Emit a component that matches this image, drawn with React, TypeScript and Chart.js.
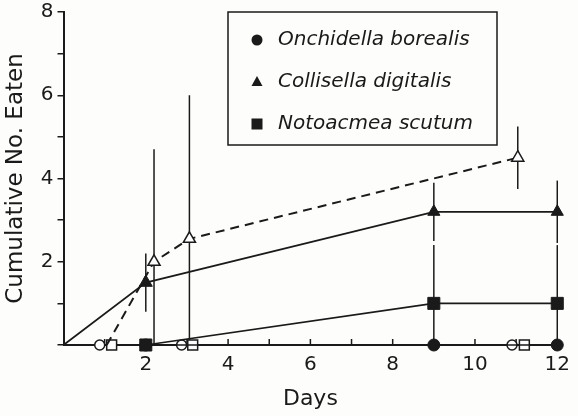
import React, { useEffect, useRef } from "react";
import { Chart, registerables } from "chart.js";

Chart.register(...registerables);

// ---- data ----
const seriesNames = ["Onchidella borealis", "Collisella digitalis", "Notoacmea scutum"];

// Onchidella borealis (filled circle)
const onchDays = [2, 9, 12];
const onchVals = [0, 0, 0];

// Collisella digitalis (filled triangle, solid)
const collDays = [0, 2, 9, 12];
const collVals = [0, 1.5, 3.2, 3.2];
const collErr = [0, 0.7, 0.7, 0.75];

// Notoacmea scutum (filled square)
const notoDays = [2, 9, 12];
const notoVals = [0, 1.0, 1.0];
const notoErr = [0, 1.4, 1.4];

// Collisella digitalis, open (dashed)
const collOpenDays = [1.05, 2.2, 3.06, 11.04];
const collOpenVals = [0, 2.0, 2.55, 4.5];
const collOpenErr = [0, 2.7, 3.45, 0.75];

// open circles / squares (all zero)
const onchOpenDays = [0.88, 2.87, 10.9];
const onchOpenVals = [0, 0, 0];
const notoOpenDays = [1.17, 3.14, 11.2];
const notoOpenVals = [0, 0, 0];

const xTickLabels = ["2", "4", "6", "8", "10", "12"];
const yTickLabels = ["2", "4", "6", "8"];
const xTitle = "Days";
const yTitle = "Cumulative No. Eaten";

const FONT = "'DejaVu Sans', sans-serif";
const INK = "#1a1a1a";
const BG = "#fdfdfb";

const pts = (d: number[], v: number[]) => d.map((x, i) => ({ x, y: v[i] }));

const errorBars = [
  { days: collDays, vals: collVals, err: collErr },
  { days: notoDays, vals: notoVals, err: notoErr },
  { days: collOpenDays, vals: collOpenVals, err: collOpenErr },
];

const bgPlugin = {
  id: "bg",
  beforeDraw(chart: any) {
    const { ctx, width, height } = chart;
    ctx.save();
    ctx.fillStyle = BG;
    ctx.fillRect(0, 0, width, height);
    ctx.restore();
  },
};

const extrasPlugin = {
  id: "extras",
  beforeDatasetsDraw(chart: any) {
    const { ctx, scales } = chart;
    const xs = scales.x;
    const ys = scales.y;
    ctx.save();
    ctx.strokeStyle = INK;
    ctx.lineWidth = 1.5;
    // inward x ticks
    for (let d = 1; d <= 12; d++) {
      const px = xs.getPixelForValue(d);
      ctx.beginPath();
      ctx.moveTo(px, ys.bottom);
      ctx.lineTo(px, ys.bottom - 6);
      ctx.stroke();
    }
    // error bars
    errorBars.forEach((s) => {
      s.days.forEach((d, i) => {
        const e = s.err[i];
        if (!e) return;
        const lo = Math.max(0, s.vals[i] - e);
        const hi = s.vals[i] + e;
        const px = xs.getPixelForValue(d);
        ctx.beginPath();
        ctx.moveTo(px, ys.getPixelForValue(lo));
        ctx.lineTo(px, ys.getPixelForValue(hi));
        ctx.stroke();
      });
    });
    ctx.restore();
  },
  afterDraw(chart: any) {
    const { ctx } = chart;
    ctx.save();
    // legend box
    const bx = 228, by = 12, bw = 269, bh = 133;
    ctx.fillStyle = BG;
    ctx.fillRect(bx, by, bw, bh);
    ctx.strokeStyle = INK;
    ctx.lineWidth = 1.5;
    ctx.strokeRect(bx, by, bw, bh);
    const rowsY = [40, 82, 124];
    const mx = 257;
    ctx.fillStyle = INK;
    // circle
    ctx.beginPath();
    ctx.arc(mx, rowsY[0], 5.5, 0, Math.PI * 2);
    ctx.fill();
    // triangle
    ctx.beginPath();
    ctx.moveTo(mx, rowsY[1] - 6);
    ctx.lineTo(mx + 5.5, rowsY[1] + 4);
    ctx.lineTo(mx - 5.5, rowsY[1] + 4);
    ctx.closePath();
    ctx.fill();
    // square
    ctx.fillRect(mx - 5.5, rowsY[2] - 5.5, 11, 11);
    ctx.font = `italic 20px ${FONT}`;
    ctx.textBaseline = "middle";
    ctx.textAlign = "left";
    seriesNames.forEach((n, i) => ctx.fillText(n, 278, rowsY[i]));
    ctx.restore();
  },
};

export default function App() {
  const ref = useRef<HTMLCanvasElement>(null);
  useEffect(() => {
    document.body.style.margin = "0";
    const line = (extra: any) => ({
      clip: false,
      borderColor: INK,
      pointBorderColor: INK,
      showLine: true,
      ...extra,
    });
    const chart = new Chart(ref.current!, {
      type: "scatter",
      data: {
        datasets: [
          line({
            label: "coll-open",
            data: pts(collOpenDays, collOpenVals),
            borderWidth: 2,
            borderDash: [9, 6],
            pointStyle: "triangle",
            pointRadius: [0, 7, 7, 7],
            pointBackgroundColor: "#ffffff",
            pointBorderWidth: 1.5,
          }),
          line({
            label: seriesNames[1],
            data: pts(collDays, collVals),
            borderWidth: 1.7,
            pointStyle: "triangle",
            pointRadius: [0, 7.5, 7, 7],
            pointBackgroundColor: INK,
            pointBorderWidth: 1,
          }),
          line({
            label: seriesNames[2],
            data: pts(notoDays, notoVals),
            borderWidth: 1.7,
            pointStyle: "rect",
            pointRadius: 8.5,
            pointBackgroundColor: INK,
            pointBorderWidth: 1,
          }),
          line({
            label: seriesNames[0],
            data: pts(onchDays, onchVals),
            borderWidth: 1.7,
            pointStyle: "circle",
            pointRadius: 6,
            pointBackgroundColor: INK,
            pointBorderWidth: 1,
          }),
          line({
            label: "onch-open",
            showLine: false,
            data: pts(onchOpenDays, onchOpenVals),
            pointStyle: "circle",
            pointRadius: 5,
            pointBackgroundColor: "#ffffff",
            pointBorderWidth: 1.5,
          }),
          line({
            label: "noto-open",
            showLine: false,
            data: pts(notoOpenDays, notoOpenVals),
            pointStyle: "rect",
            pointRadius: 7,
            pointBackgroundColor: "#ffffff",
            pointBorderWidth: 1.5,
          }),
        ],
      },
      options: {
        animation: false,
        responsive: false,
        maintainAspectRatio: false,
        layout: { padding: { top: 12, right: 15, left: 0, bottom: 0 } },
        plugins: { legend: { display: false }, tooltip: { enabled: false } },
        scales: {
          x: {
            type: "linear",
            min: 0,
            max: 12,
            afterFit: (s: any) => { s.height = 71; },
            border: { display: true, color: INK, width: 2 },
            grid: { display: false, drawTicks: false },
            ticks: {
              stepSize: 1,
              autoSkip: false,
              maxRotation: 0,
              padding: 8,
              color: INK,
              font: { family: FONT, size: 20 },
              callback: (v: any) => (xTickLabels.includes(String(v)) ? String(v) : ""),
            },
            title: {
              display: true,
              text: xTitle,
              color: INK,
              font: { family: FONT, size: 22 },
              padding: { top: 0, bottom: 4 },
            },
          },
          y: {
            type: "linear",
            min: 0,
            max: 8,
            afterFit: (s: any) => { s.width = 63.5; s.paddingTop = 0; },
            border: { display: true, color: INK, width: 2 },
            grid: { drawOnChartArea: false, drawTicks: true, tickLength: 6, color: INK, lineWidth: 1.5 },
            ticks: {
              stepSize: 1,
              autoSkip: false,
              padding: 4,
              color: INK,
              font: { family: FONT, size: 20 },
              callback: (v: any) => (yTickLabels.includes(String(v)) ? String(v) : ""),
            },
            title: {
              display: true,
              text: yTitle,
              color: INK,
              font: { family: FONT, size: 23 },
              padding: { top: 2, bottom: 0 },
            },
          },
        },
      },
      plugins: [bgPlugin, extrasPlugin],
    } as any);
    return () => chart.destroy();
  }, []);
  return (
    <div style={{ width: 578, height: 416 }}>
      <canvas ref={ref} width={578} height={416} style={{ display: "block" }} />
    </div>
  );
}
